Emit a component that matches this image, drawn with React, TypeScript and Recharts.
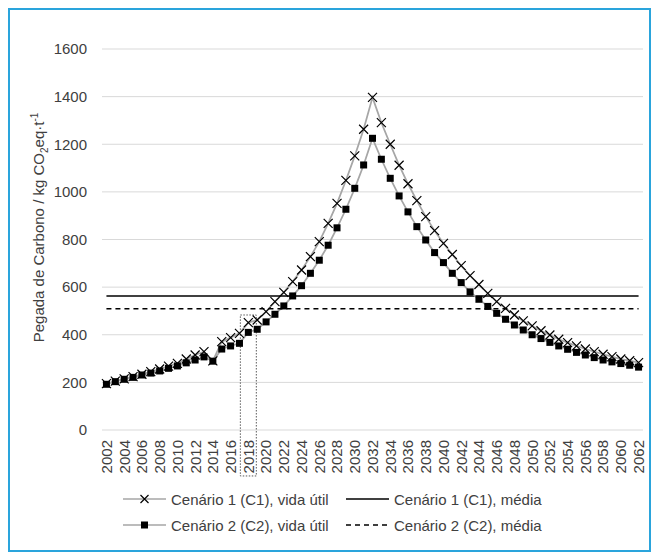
import { LineChart, Line, XAxis, YAxis, CartesianGrid, ReferenceLine, ReferenceArea } from 'recharts';

const YEARS = [
  2002, 2003, 2004, 2005, 2006, 2007, 2008, 2009, 2010, 2011,
  2012, 2013, 2014, 2015, 2016, 2017, 2018, 2019, 2020, 2021,
  2022, 2023, 2024, 2025, 2026, 2027, 2028, 2029, 2030, 2031,
  2032, 2033, 2034, 2035, 2036, 2037, 2038, 2039, 2040, 2041,
  2042, 2043, 2044, 2045, 2046, 2047, 2048, 2049, 2050, 2051,
  2052, 2053, 2054, 2055, 2056, 2057, 2058, 2059, 2060, 2061,
  2062,
];

// Cenário 1 (C1), vida útil
const C1_LIFE = [
  195, 205, 215, 224, 234, 245, 256, 268, 280, 298,
  315, 329, 290, 371, 388, 406, 451, 462, 497, 539,
  578, 623, 672, 728, 791, 868, 952, 1048, 1151, 1263,
  1397, 1291, 1200, 1112, 1034, 963, 896, 837, 784, 737,
  690, 648, 611, 574, 539, 511, 483, 458, 437, 417,
  399, 381, 367, 353, 340, 329, 318, 308, 298, 291,
  283,
];

// Cenário 2 (C2), vida útil
const C2_LIFE = [
  192, 203, 213, 221, 231, 239, 248, 259, 269, 282,
  294, 307, 289, 340, 353, 364, 410, 423, 454, 486,
  521, 563, 606, 658, 713, 776, 849, 927, 1015, 1113,
  1225, 1137, 1057, 983, 916, 854, 798, 745, 703, 658,
  619, 580, 549, 519, 490, 465, 441, 420, 400, 384,
  368, 353, 339, 326, 315, 304, 294, 286, 279, 272,
  264,
];

const C1_MEAN = 563;
const C2_MEAN = 509;

const YEAR_TICKS = [
  2002, 2004, 2006, 2008, 2010, 2012, 2014, 2016, 2018, 2020,
  2022, 2024, 2026, 2028, 2030, 2032, 2034, 2036, 2038, 2040,
  2042, 2044, 2046, 2048, 2050, 2052, 2054, 2056, 2058, 2060,
  2062,
];
const Y_TICKS = [0, 200, 400, 600, 800, 1000, 1200, 1400, 1600];

const HIGHLIGHT_YEAR = 2018;

const data = YEARS.map((year, i) => ({ year, c1: C1_LIFE[i], c2: C2_LIFE[i] }));

const FONT = '"Liberation Sans", Arial, sans-serif';
const TEXT = '#404040';
const SERIES_LINE = '#a6a6a6';

const CrossDot = (props: any) => {
  const { cx, cy, index } = props;
  if (cx == null || cy == null) return <g key={`c1-${index}`} />;
  const r = 4.5;
  return (
    <path
      key={`c1-${index}`}
      d={`M${cx - r},${cy - r}L${cx + r},${cy + r}M${cx - r},${cy + r}L${cx + r},${cy - r}`}
      stroke="#000"
      strokeWidth={1.2}
      fill="none"
    />
  );
};

const SquareDot = (props: any) => {
  const { cx, cy, index } = props;
  if (cx == null || cy == null) return <g key={`c2-${index}`} />;
  return <rect key={`c2-${index}`} x={cx - 3.5} y={cy - 3.5} width={7} height={7} fill="#000" />;
};

const YearTick = (props: any) => {
  const { x, y, payload } = props;
  return (
    <text
      transform={`translate(${x + 5.4},${y + 10}) rotate(-90)`}
      textAnchor="end"
      fontSize={15}
      fontFamily={FONT}
      fill={TEXT}
    >
      {payload.value}
    </text>
  );
};

const renderYLabel = (props: any) => {
  const { viewBox } = props;
  const x = viewBox.x + 33.5;
  const y = viewBox.y + viewBox.height / 2 - 12;
  return (
    <text transform={`translate(${x},${y}) rotate(-90)`} textAnchor="middle" fontSize={15} fontFamily={FONT} fill={TEXT}>
      Pegada de Carbono / kg CO
      <tspan fontSize={10} dy={4}>2</tspan>
      <tspan dy={-4}>eq·t</tspan>
      <tspan fontSize={10} dy={-6}>-1</tspan>
    </text>
  );
};

const LEGEND = [
  { label: 'Cenário 1 (C1), vida útil', kind: 'cross', col: 0, row: 0 },
  { label: 'Cenário 1 (C1), média', kind: 'solid', col: 1, row: 0 },
  { label: 'Cenário 2 (C2), vida útil', kind: 'square', col: 0, row: 1 },
  { label: 'Cenário 2 (C2), média', kind: 'dashed', col: 1, row: 1 },
];

function LegendSample({ kind }: { kind: string }) {
  const isMean = kind === 'solid' || kind === 'dashed';
  return (
    <svg width={43} height={14} style={{ display: 'block' }}>
      <line
        x1={0}
        x2={43}
        y1={7}
        y2={7}
        stroke={isMean ? '#000' : SERIES_LINE}
        strokeWidth={isMean ? 1.6 : 1.6}
        strokeDasharray={kind === 'dashed' ? '5 4' : undefined}
      />
      {kind === 'cross' && (
        <path d="M17.5,3L25.5,11M17.5,11L25.5,3" stroke="#000" strokeWidth={1.2} />
      )}
      {kind === 'square' && <rect x={18} y={3.5} width={7} height={7} fill="#000" />}
    </svg>
  );
}

export default function App() {
  return (
    <div
      style={{
        position: 'relative',
        width: 643,
        height: 544,
        boxSizing: 'border-box',
        border: '2px solid #2aa4dc',
        background: '#fff',
        fontFamily: FONT,
      }}
    >
      <LineChart width={639} height={540} data={data} margin={{ top: 39, right: 6, bottom: 0, left: 0 }}>
        <CartesianGrid vertical={false} stroke="#d9d9d9" strokeWidth={1} />
        <XAxis
          dataKey="year"
          type="number"
          domain={[2001.5, 2062.5]}
          ticks={YEAR_TICKS}
          interval={0}
          height={120}
          axisLine={false}
          tickLine={false}
          tickSize={0}
          tickMargin={0}
          tick={<YearTick />}
        />
        <YAxis
          domain={[0, 1600]}
          ticks={Y_TICKS}
          interval={0}
          width={92}
          axisLine={false}
          tickLine={false}
          tickSize={0}
          tickMargin={15}
          tick={{ fontSize: 15, fill: TEXT, fontFamily: FONT }}
          label={renderYLabel}
        />
        <Line
          dataKey="c1"
          stroke={SERIES_LINE}
          strokeWidth={1.75}
          dot={CrossDot}
          activeDot={false}
          isAnimationActive={false}
        />
        <ReferenceLine
          segment={[{ x: YEARS[0], y: C1_MEAN }, { x: YEARS[YEARS.length - 1], y: C1_MEAN }]}
          stroke="#000"
          strokeWidth={1.6}
        />
        <Line
          dataKey="c2"
          stroke={SERIES_LINE}
          strokeWidth={1.75}
          dot={SquareDot}
          activeDot={false}
          isAnimationActive={false}
        />
        <ReferenceLine
          segment={[{ x: YEARS[0], y: C2_MEAN }, { x: YEARS[YEARS.length - 1], y: C2_MEAN }]}
          stroke="#000"
          strokeWidth={1.6}
          strokeDasharray="5 4"
        />
        <ReferenceArea
          x1={HIGHLIGHT_YEAR - 0.9}
          x2={HIGHLIGHT_YEAR + 0.9}
          y1={-193}
          y2={483}
          ifOverflow="visible"
          fill="none"
          stroke="#595959"
          strokeWidth={1}
          strokeDasharray="1.5 1.5"
        />
      </LineChart>
      {LEGEND.map((item) => (
        <div
          key={item.label}
          style={{
            position: 'absolute',
            left: item.col === 0 ? 113 : 336,
            top: item.row === 0 ? 480 : 506,
            height: 18,
            display: 'flex',
            alignItems: 'center',
            gap: 5,
            fontSize: 15,
            color: TEXT,
            whiteSpace: 'nowrap',
          }}
        >
          <LegendSample kind={item.kind} />
          <span>{item.label}</span>
        </div>
      ))}
    </div>
  );
}
